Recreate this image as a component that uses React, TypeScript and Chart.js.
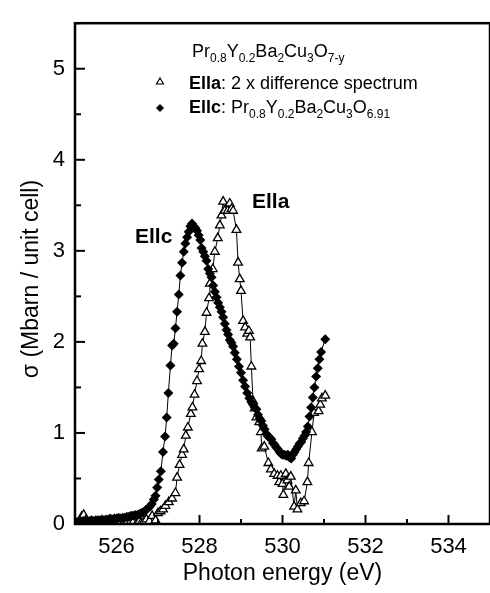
import React, { useEffect, useRef } from "react";
import { Chart, registerables } from "chart.js";

Chart.register(...registerables);

// ---- Data ----
const ellcEnergy = [
  525.0, 525.05, 525.1, 525.15, 525.2, 525.25, 525.3, 525.35, 525.4, 525.45,
  525.5, 525.55, 525.6, 525.65, 525.7, 525.75, 525.8, 525.85, 525.9, 525.95,
  526.0, 526.05, 526.1, 526.15, 526.2, 526.25, 526.3, 526.35, 526.4, 526.45,
  526.5, 526.55, 526.6, 526.65, 526.7, 526.75, 526.8, 526.85, 526.9, 526.94,
  526.98, 527.02, 527.07, 527.12, 527.17, 527.21, 527.25, 527.3, 527.34, 527.38,
  527.42, 527.46, 527.5, 527.54, 527.58, 527.62, 527.66, 527.7, 527.74, 527.78,
  527.82, 527.86, 527.9, 527.94, 527.98, 528.02, 528.05, 528.09, 528.13, 528.17,
  528.21, 528.25, 528.29, 528.33, 528.37, 528.41, 528.45, 528.49, 528.53, 528.57,
  528.61, 528.65, 528.69, 528.73, 528.77, 528.81, 528.85, 528.9, 528.95, 529.0,
  529.05, 529.1, 529.15, 529.2, 529.25, 529.29, 529.33, 529.37, 529.41, 529.45,
  529.49, 529.53, 529.57, 529.61, 529.65, 529.69, 529.73, 529.77, 529.81, 529.85,
  529.89, 529.93, 529.97, 530.01, 530.05, 530.09, 530.13, 530.17, 530.21, 530.25,
  530.29, 530.33, 530.37, 530.41, 530.45, 530.49, 530.53, 530.57, 530.61, 530.65,
  530.69, 530.73, 530.77, 530.81, 530.85, 530.89, 530.93, 531.03,
];
const ellcSigma = [
  0.03, 0.02, 0.03, 0.02, 0.03, 0.03, 0.02, 0.03, 0.04, 0.03,
  0.04, 0.04, 0.04, 0.05, 0.04, 0.05, 0.05, 0.06, 0.05, 0.06,
  0.06, 0.07, 0.06, 0.07, 0.07, 0.08, 0.08, 0.09, 0.09, 0.1,
  0.1, 0.11, 0.12, 0.13, 0.15, 0.17, 0.19, 0.22, 0.27, 0.31,
  0.4, 0.49, 0.58, 0.79, 0.96, 1.17, 1.44, 1.74, 1.96, 1.98,
  2.15, 2.33, 2.52, 2.73, 2.87, 2.99, 3.08, 3.15, 3.21, 3.27,
  3.3, 3.27, 3.25, 3.22, 3.17, 3.12, 3.03, 2.99, 2.94, 2.89,
  2.8, 2.75, 2.71, 2.62, 2.55, 2.49, 2.43, 2.38, 2.33, 2.27,
  2.2, 2.13, 2.08, 2.02, 1.99, 1.95, 1.88, 1.81, 1.73, 1.66,
  1.58, 1.51, 1.44, 1.38, 1.34, 1.31, 1.28, 1.26, 1.2, 1.16,
  1.13, 1.08, 1.04, 0.99, 0.96, 0.95, 0.93, 0.89, 0.87, 0.84,
  0.82, 0.79, 0.77, 0.76, 0.76, 0.75, 0.76, 0.73, 0.72, 0.76,
  0.79, 0.82, 0.85, 0.88, 0.9, 0.94, 0.97, 1.01, 1.07, 1.18,
  1.28, 1.39, 1.5, 1.62, 1.71, 1.81, 1.89, 2.03,
];

const ellaEnergy = [
  525.0, 525.04, 525.08, 525.12, 525.16, 525.21, 525.26, 525.3, 525.36, 525.42,
  525.48, 525.55, 525.6, 525.66, 525.73, 525.79, 525.85, 525.92, 526.0, 526.08,
  526.16, 526.24, 526.32, 526.4, 526.48, 526.55, 526.59, 526.66, 526.72, 526.79,
  526.86, 526.94, 527.0, 527.06, 527.12, 527.18, 527.26, 527.34, 527.42, 527.46,
  527.52, 527.58, 527.62, 527.67, 527.72, 527.79, 527.83, 527.88, 527.94, 527.99,
  528.04, 528.07, 528.13, 528.17, 528.23, 528.25, 528.32, 528.37, 528.44, 528.49,
  528.53, 528.57, 528.61, 528.68, 528.73, 528.77, 528.81, 528.89, 528.93, 528.97,
  529.0, 529.05, 529.1, 529.15, 529.19, 529.22, 529.25, 529.29, 529.33, 529.37,
  529.44, 529.48, 529.5, 529.56, 529.66, 529.72, 529.8, 529.88, 529.92, 529.96,
  530.0, 530.02, 530.08, 530.12, 530.16, 530.2, 530.28, 530.32, 530.36, 530.44,
  530.52, 530.6, 530.63, 530.71, 530.76, 530.87, 530.91, 530.95, 531.03,
];
const ellaSigma = [
  0.02, -0.03, -0.04, 0.03, 0.08, 0.1, 0.04, 0.01, 0.02, -0.01,
  -0.03, -0.05, -0.02, -0.01, -0.05, -0.04, 0.0, 0.01, 0.0, 0.01,
  0.0, 0.02, 0.01, 0.02, 0.0, 0.03, 0.01, 0.03, 0.05, 0.03,
  0.09, 0.04, 0.12, 0.14, 0.16, 0.2, 0.24, 0.28, 0.34, 0.51,
  0.65, 0.76, 0.82, 0.97, 1.06, 1.21, 1.28, 1.42, 1.57, 1.7,
  1.79, 1.98, 2.11, 2.32, 2.48, 2.64, 2.8, 2.99, 3.14, 3.28,
  3.39, 3.54, 3.44, 3.44, 3.52, 3.46, 3.44, 3.23, 2.87, 2.69,
  2.56, 2.23, 2.16, 2.09, 2.12, 2.05, 1.73, 1.35, 1.27, 1.17,
  1.12, 1.01, 0.83, 0.85, 0.67, 0.6, 0.55, 0.53, 0.46, 0.53,
  0.44, 0.32, 0.55, 0.48, 0.41, 0.52, 0.19, 0.37, 0.16, 0.23,
  0.25, 0.46, 0.67, 1.01, 1.22, 1.24, 1.31, 1.38, 1.41,
];

const xTickLabels = ["526", "528", "530", "532", "534"];
const yTickLabels = ["0", "1", "2", "3", "4", "5"];

const FONT = '"Liberation Sans", Arial, Helvetica, sans-serif';

type Part = { t: string; sub?: boolean; bold?: boolean };

function drawRich(ctx: CanvasRenderingContext2D, x: number, y: number, parts: Part[], size: number) {
  let cx = x;
  ctx.textAlign = "left";
  ctx.textBaseline = "alphabetic";
  for (const p of parts) {
    const fs = p.sub ? Math.round(size * 0.68) : size;
    ctx.font = `${p.bold ? "bold " : ""}${fs}px ${FONT}`;
    const yy = p.sub ? y + size * 0.3 : y;
    ctx.fillText(p.t, cx, yy);
    cx += ctx.measureText(p.t).width;
  }
}

const formulaBase = (last: string): Part[] => [
  { t: "Pr" }, { t: "0.8", sub: true }, { t: "Y" }, { t: "0.2", sub: true },
  { t: "Ba" }, { t: "2", sub: true }, { t: "Cu" }, { t: "3", sub: true },
  { t: "O" }, { t: last, sub: true },
];

const decorPlugin = {
  id: "decor",
  afterDraw(chart: any) {
    const ctx: CanvasRenderingContext2D = chart.ctx;
    const { left, right, top, bottom } = chart.chartArea;
    const xs = chart.scales.x;
    const ys = chart.scales.y;
    ctx.save();
    ctx.strokeStyle = "#000";
    // ticks (inward)
    ctx.lineWidth = 2;
    for (const t of xs.ticks) {
      const px = xs.getPixelForValue(t.value);
      const major = Math.round(t.value) % 2 === 0;
      const len = major ? 9 : 5;
      ctx.beginPath();
      ctx.moveTo(px, bottom);
      ctx.lineTo(px, bottom - len);
      ctx.stroke();
    }
    for (const t of ys.ticks) {
      const py = ys.getPixelForValue(t.value);
      const major = Math.abs(t.value - Math.round(t.value)) < 1e-6;
      const len = major ? 10 : 6;
      ctx.beginPath();
      ctx.moveTo(left, py);
      ctx.lineTo(left + len, py);
      ctx.stroke();
    }
    // frame
    ctx.lineWidth = 2.5;
    ctx.strokeRect(left, top, right - left, bottom - top);

    ctx.fillStyle = "#000";
    // y title
    ctx.save();
    ctx.translate(32, 279);
    ctx.rotate(-Math.PI / 2);
    ctx.font = `23px ${FONT}`;
    ctx.textAlign = "center";
    ctx.textBaseline = "middle";
    ctx.fillText("σ (Mbarn / unit cell)", 0, 0);
    ctx.restore();

    // legend
    drawRich(ctx, 192, 57, formulaBase("7-y"), 18);
    drawRich(ctx, 189, 89, [{ t: "Ella", bold: true }, { t: ": 2 x difference spectrum" }], 18);
    drawRich(ctx, 189, 113, [{ t: "Ellc", bold: true }, { t: ": " }, ...formulaBase("6.91")], 18);
    // legend markers
    ctx.lineWidth = 1.2;
    ctx.fillStyle = "#fff";
    ctx.beginPath();
    ctx.moveTo(160, 78);
    ctx.lineTo(163.5, 84);
    ctx.lineTo(156.5, 84);
    ctx.closePath();
    ctx.fill();
    ctx.stroke();
    ctx.fillStyle = "#000";
    ctx.beginPath();
    ctx.moveTo(160, 104);
    ctx.lineTo(164, 108);
    ctx.lineTo(160, 112);
    ctx.lineTo(156, 108);
    ctx.closePath();
    ctx.fill();

    // annotations
    ctx.font = `bold 21px ${FONT}`;
    ctx.textAlign = "left";
    ctx.textBaseline = "alphabetic";
    ctx.fillText("Ellc", 135, 243);
    ctx.fillText("Ella", 252, 208);
    ctx.restore();
  },
};

export default function App() {
  const ref = useRef<HTMLCanvasElement | null>(null);
  useEffect(() => {
    document.body.style.margin = "0";
    document.body.style.overflow = "hidden";
    const canvas = ref.current!;
    const ellc = ellcEnergy.map((x, i) => ({ x, y: ellcSigma[i] }));
    const ella = ellaEnergy.map((x, i) => ({ x, y: ellaSigma[i] }));
    const chart = new Chart(canvas, {
      type: "line",
      data: {
        datasets: [
          {
            label: "Ellc",
            data: ellc,
            borderColor: "#000",
            borderWidth: 1,
            backgroundColor: "#000",
            pointStyle: "rectRot",
            pointRadius: 5,
            pointBorderWidth: 0,
            pointBackgroundColor: "#000",
            tension: 0,
          },
          {
            label: "Ella",
            data: ella,
            borderColor: "#000",
            borderWidth: 1,
            pointStyle: "triangle",
            pointRadius: 5,
            pointBorderWidth: 1.3,
            pointBorderColor: "#000",
            pointBackgroundColor: "#fff",
            tension: 0,
          },
        ],
      },
      options: {
        animation: false,
        responsive: false,
        devicePixelRatio: 1,
        layout: { padding: { top: 5, right: 4, left: 0, bottom: 0 } },
        plugins: { legend: { display: false }, tooltip: { enabled: false } },
        scales: {
          x: {
            type: "linear",
            min: 525,
            max: 535,
            grid: { display: false, drawTicks: false },
            border: { display: false },
            ticks: {
              stepSize: 1,
              autoSkip: false,
              maxRotation: 0,
              padding: 10,
              color: "#000",
              font: { size: 22, family: FONT },
              callback: (v: any) => {
                const s = String(Math.round(v));
                return xTickLabels.includes(s) && Math.abs(v - Math.round(v)) < 1e-6 ? s : "";
              },
            },
            title: {
              display: true,
              text: "Photon energy (eV)",
              color: "#000",
              font: { size: 23, family: FONT },
              padding: { top: 0, bottom: 6 },
            },
            afterFit: (s: any) => {
              s.height = 69;
            },
          },
          y: {
            min: 0,
            max: 5.5,
            grid: { display: false, drawTicks: false },
            border: { display: false },
            ticks: {
              stepSize: 0.5,
              autoSkip: false,
              padding: 10,
              color: "#000",
              font: { size: 22, family: FONT },
              callback: (v: any) => {
                const r = Math.round(v);
                return Math.abs(v - r) < 1e-6 && yTickLabels.includes(String(r)) ? String(r) : "";
              },
            },
            afterFit: (s: any) => {
              s.width = 75;
            },
          },
        },
      },
      plugins: [decorPlugin],
    });
    return () => chart.destroy();
  }, []);
  return (
    <div style={{ width: 490, height: 593, overflow: "hidden" }}>
      <canvas ref={ref} width={500} height={593} style={{ display: "block" }} />
    </div>
  );
}
